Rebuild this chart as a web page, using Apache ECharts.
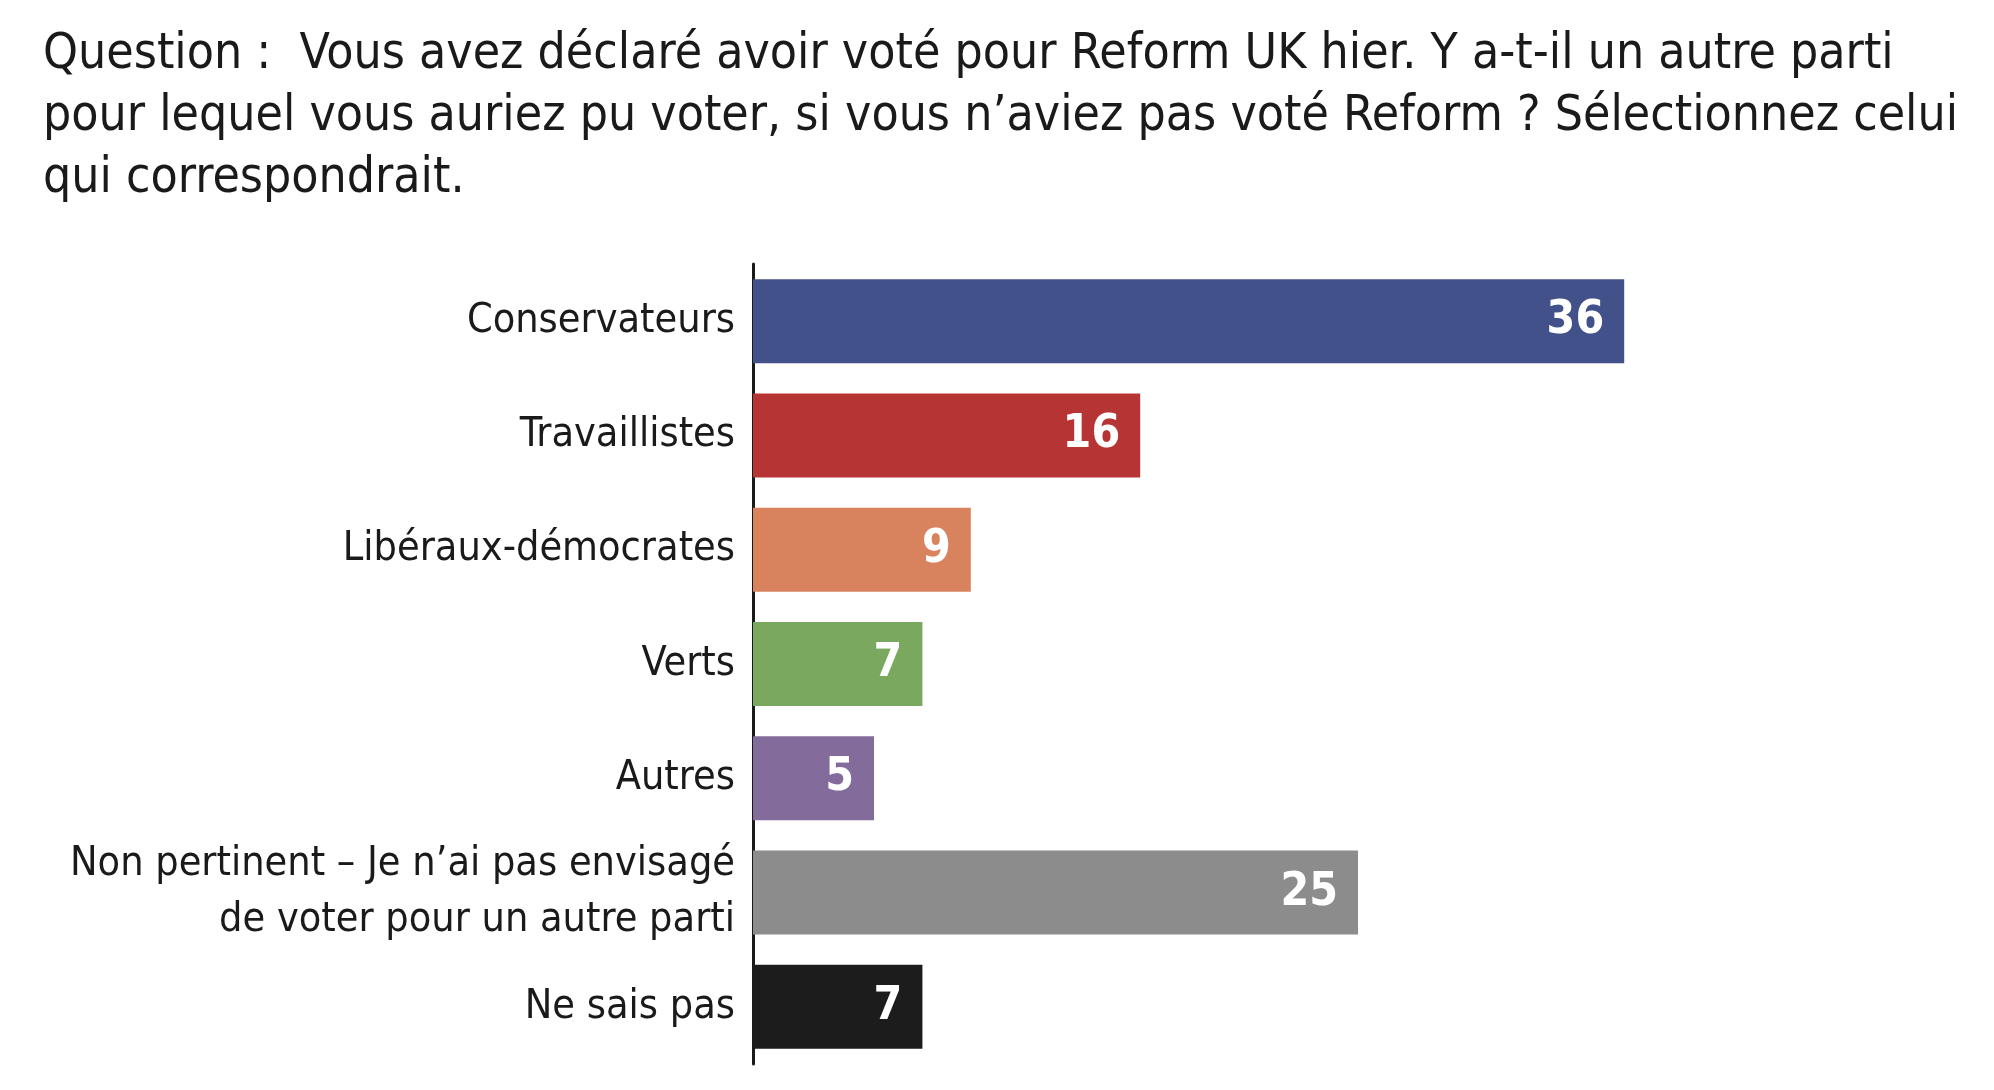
<!DOCTYPE html>
<html>
<head>
<meta charset="utf-8">
<style>
  html, body { margin: 0; padding: 0; background: #fff; }
  #chart { width: 1994px; height: 1090px; }
</style>
<script src="https://cdn.jsdelivr.net/npm/echarts@6/dist/echarts.min.js"></script>
</head>
<body>
<div id="chart"></div>
<script>
// data
const categories = [
  'Conservateurs',
  'Travaillistes',
  'Libéraux-démocrates',
  'Verts',
  'Autres',
  'Non pertinent – Je n’ai pas envisagé\nde voter pour un autre parti',
  'Ne sais pas'
];
const values = [36, 16, 9, 7, 5, 25, 7];
const colors = ['#42518a', '#b63434', '#d9825e', '#79a85e', '#836b9b', '#8c8c8c', '#1c1c1c'];

const titleLines = [
  'Question :  Vous avez déclaré avoir voté pour Reform UK hier. Y a-t-il un autre parti',
  'pour lequel vous auriez pu voter, si vous n’aviez pas voté Reform ? Sélectionnez celui',
  'qui correspondrait.'
];

const FONT = '"DejaVu Sans Condensed", "DejaVu Sans", sans-serif';

const chart = echarts.init(document.getElementById('chart'), null, { renderer: 'canvas' });

chart.setOption({
  backgroundColor: '#fff',
  animation: false,
  title: {
    text: titleLines.join('\n'),
    left: 38,
    top: 19,
    textStyle: {
      fontFamily: FONT,
      fontWeight: 'normal',
      fontSize: 49.5,
      lineHeight: 62,
      color: '#1a1a1a'
    }
  },
  grid: { left: 753, top: 264, height: 800, right: 31, containLabel: false, outerBoundsMode: 'none' },
  xAxis: {
    type: 'value',
    min: 0,
    max: 50,
    show: false
  },
  yAxis: {
    type: 'category',
    data: categories,
    inverse: true,
    axisTick: { show: false },
    axisLine: { show: true, lineStyle: { color: '#1a1a1a', width: 3 } },
    axisLabel: {
      margin: 18,
      color: '#1a1a1a',
      fontFamily: FONT,
      fontSize: 41,
      lineHeight: 56,
      padding: [10, 0, 0, 0],
      align: 'right'
    }
  },
  series: [{
    type: 'bar',
    barWidth: 84,
    data: values.map((v, i) => ({ value: v, itemStyle: { color: colors[i] } })),
    label: {
      show: true,
      position: 'insideRight',
      distance: 20,
      color: '#fff',
      fontFamily: FONT,
      fontWeight: 'bold',
      fontSize: 46
    }
  }]
});
</script>
</body>
</html>
